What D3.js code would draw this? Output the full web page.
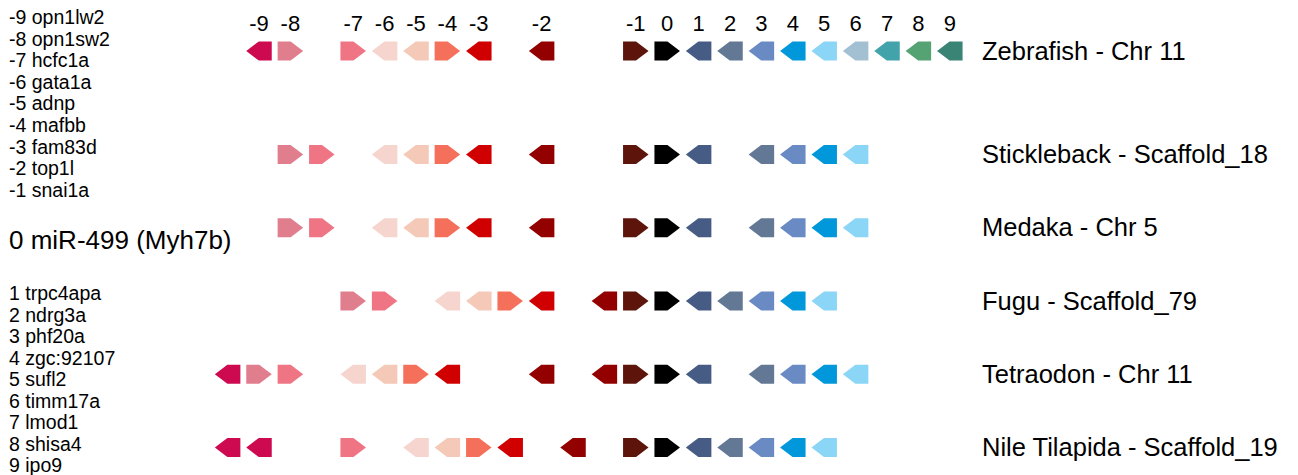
<!DOCTYPE html>
<html>
<head>
<meta charset="utf-8">
<script src="https://cdn.jsdelivr.net/npm/d3@7"></script>
<style>
  html, body { margin: 0; padding: 0; background: #fff; }
  svg { display: block; font-family: "Liberation Sans", Arial, sans-serif; }
</style>
</head>
<body>
<svg id="chart" width="1298" height="475"></svg>
<script>
// Gene identifiers relative to miR-499 (0) and their names
const geneIds = [-9, -8, -7, -6, -5, -4, -3, -2, -1, 0, 1, 2, 3, 4, 5, 6, 7, 8, 9];
const upstreamNames = ["opn1lw2", "opn1sw2", "hcfc1a", "gata1a", "adnp", "mafbb", "fam83d", "top1l", "snai1a"];
const centerName = "miR-499 (Myh7b)";
const downstreamNames = ["trpc4apa", "ndrg3a", "phf20a", "zgc:92107", "sufl2", "timm17a", "lmod1", "shisa4", "ipo9"];
const geneColors = ["#cd0a4f", "#e07e8e", "#ef7585", "#f7d5cf", "#f4c9b7", "#f5705a", "#d00000", "#930000",
                    "#5d150b", "#000000", "#465c85", "#627894", "#6a8ac4", "#0098da", "#8bd6f6",
                    "#a3c0d3", "#42a3ab", "#55a272", "#3a8475"];

// Species / chromosome labels
const species = ["Zebrafish - Chr 11", "Stickleback - Scaffold_18", "Medaka - Chr 5",
                 "Fugu - Scaffold_79", "Tetraodon - Chr 11", "Nile Tilapida - Scaffold_19"];

// Each locus: [gene id, slot along the row, strand (+1 right, -1 left)]
const zebrafish = [[-9,0,-1],[-8,1,1],[-7,3,1],[-6,4,-1],[-5,5,-1],[-4,6,1],[-3,7,-1],[-2,9,-1],
                   [-1,12,1],[0,13,1],[1,14,-1],[2,15,-1],[3,16,-1],[4,17,-1],[5,18,-1],[6,19,-1],
                   [7,20,-1],[8,21,-1],[9,22,-1]];
const stickleback = [[-8,1,1],[-7,2,1],[-6,4,-1],[-5,5,-1],[-4,6,1],[-3,7,-1],[-2,9,-1],
                     [-1,12,1],[0,13,1],[1,14,-1],[2,16,-1],[3,17,-1],[4,18,-1],[5,19,-1]];
const medaka = [[-8,1,1],[-7,2,1],[-6,4,-1],[-5,5,-1],[-4,6,1],[-3,7,-1],[-2,9,-1],
                [-1,12,1],[0,13,1],[1,14,-1],[2,16,-1],[3,17,-1],[4,18,-1],[5,19,-1]];
const fugu = [[-8,3,1],[-7,4,1],[-6,6,-1],[-5,7,-1],[-4,8,1],[-3,9,-1],[-2,11,-1],
              [-1,12,1],[0,13,1],[1,14,-1],[2,15,-1],[3,16,-1],[4,17,-1],[5,18,-1]];
const tetraodon = [[-9,-1,-1],[-8,0,1],[-7,1,1],[-6,3,-1],[-5,4,-1],[-4,5,1],[-3,6,-1],[-2,9,-1],
                   [-2,11,-1],[-1,12,1],[0,13,1],[1,14,-1],[2,16,-1],[3,17,-1],[4,18,-1],[5,19,-1]];
const tilapia = [[-9,-1,-1],[-9,0,-1],[-7,3,1],[-6,5,-1],[-5,6,-1],[-4,7,1],[-3,8,-1],[-2,10,-1],
                 [-1,12,1],[0,13,1],[1,14,-1],[2,15,-1],[3,16,-1],[4,17,-1],[5,18,-1]];
const loci = [zebrafish, stickleback, medaka, fugu, tetraodon, tilapia];

const svg = d3.select("#chart");

const color = d3.scaleOrdinal().domain(geneIds).range(geneColors);
const x = d3.scaleLinear().domain([-1, 22]).range([227.6, 949.8]);
// first row sits a bit higher, the rest are evenly spaced
const y = d3.scaleLinear().domain([1, 5]).range([154.5, 447.5]);
const rowY = i => i === 0 ? 51 : y(i);

const arrowW = 25.5, arrowH = 19, bodyW = 13;
function arrowPath(cx, cy, strand) {
  const hw = arrowW / 2, hh = arrowH / 2;
  const pts = [[-hw, -hh], [-hw + bodyW, -hh], [hw, 0], [-hw + bodyW, hh], [-hw, hh]]
    .map(([dx, dy]) => [cx + strand * dx, cy + dy]);
  return d3.line()(pts) + "Z";
}

// gene number labels above the first genome
svg.append("g").selectAll("text")
  .data(zebrafish)
  .join("text")
  .attr("x", d => x(d[1]))
  .attr("y", 30.5)
  .attr("text-anchor", "middle")
  .attr("font-size", 22)
  .attr("fill", "#000")
  .text(d => d[0]);

// gene arrows for every genome
const rows = svg.append("g").selectAll("g.row")
  .data(loci)
  .join("g")
  .attr("class", "row");

rows.selectAll("path")
  .data((d, i) => d.map(g => ({ gene: g[0], slot: g[1], strand: g[2], row: i })))
  .join("path")
  .attr("d", d => arrowPath(x(d.slot), rowY(d.row), d.strand))
  .attr("fill", d => color(d.gene));

// species labels
svg.append("g").selectAll("text")
  .data(species)
  .join("text")
  .attr("x", 982)
  .attr("y", (d, i) => rowY(i) + 8.6)
  .attr("font-size", 25.5)
  .attr("fill", "#000")
  .text(d => d);

// gene key on the left
const key = svg.append("g").attr("fill", "#000");
key.selectAll("text.up")
  .data(upstreamNames)
  .join("text")
  .attr("class", "up")
  .attr("x", 9)
  .attr("y", (d, i) => 24 + i * 21.6)
  .attr("font-size", 19.5)
  .text((d, i) => `${geneIds[i]} ${d}`);

key.append("text")
  .attr("x", 9)
  .attr("y", 249)
  .attr("font-size", 26)
  .text(`0 ${centerName}`);

key.selectAll("text.down")
  .data(downstreamNames)
  .join("text")
  .attr("class", "down")
  .attr("x", 9)
  .attr("y", (d, i) => 300 + i * 21.5)
  .attr("font-size", 19.5)
  .text((d, i) => `${geneIds[10 + i]} ${d}`);
</script>
</body>
</html>
